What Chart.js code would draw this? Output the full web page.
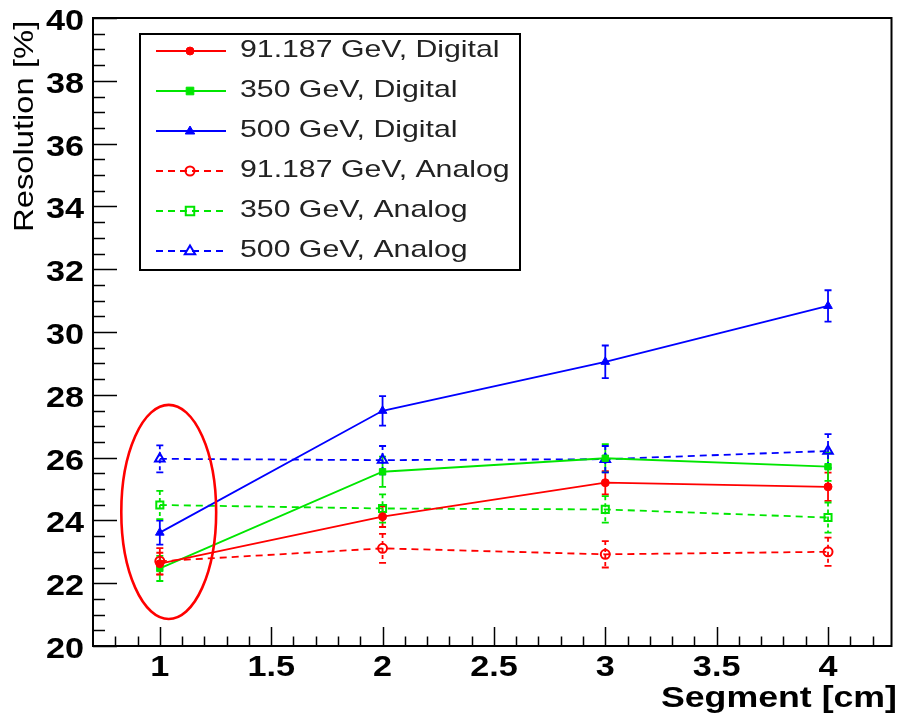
<!DOCTYPE html>
<html lang="en">
<head>
    <meta charset="UTF-8">
    <title>Resolution vs Segment</title>
    <script src="https://cdn.jsdelivr.net/npm/chart.js@4"></script>
    <style>
        body {
            margin: 0;
            background: #fff;
        }
        #wrap {
            width: 899px;
            height: 716px;
        }
    </style>
</head>
<body>
    <div id="wrap">
        <canvas id="resChart" width="899" height="716"></canvas>
    </div>

    <script>
        // segment sizes (cm)
        const segments = [1, 2, 3, 4];

        // resolution values (%)
        const digital91 = [22.62, 24.12, 25.2, 25.07];
        const digital350 = [22.47, 25.55, 25.98, 25.71];
        const digital500 = [23.61, 27.49, 29.05, 30.83];
        const analog91 = [22.7, 23.11, 22.92, 23.0];
        const analog350 = [24.49, 24.38, 24.35, 24.09];
        const analog500 = [25.96, 25.92, 25.95, 26.21];

        // error bars (half length)
        const digital91Err = [0.35, 0.33, 0.37, 0.45];
        const digital350Err = [0.4, 0.48, 0.45, 0.45];
        const digital500Err = [0.38, 0.47, 0.52, 0.5];
        const analog91Err = [0.42, 0.46, 0.42, 0.45];
        const analog350Err = [0.45, 0.45, 0.42, 0.48];
        const analog500Err = [0.43, 0.45, 0.42, 0.54];

        const seriesLabels = ['91.187 GeV, Digital', '350 GeV, Digital', '500 GeV, Digital',
                              '91.187 GeV, Analog', '350 GeV, Analog', '500 GeV, Analog'];

        const xTicks = [1, 1.5, 2, 2.5, 3, 3.5, 4];
        const xTickLabels = ['1', '1.5', '2', '2.5', '3', '3.5', '4'];
        const yTicks = [20, 22, 24, 26, 28, 30, 32, 34, 36, 38, 40];
        const yTickLabels = ['20', '22', '24', '26', '28', '30', '32', '34', '36', '38', '40'];

        // the hand-drawn ring around segment 1 (data units)
        const ring = { x: 1.04, y: 24.27, rx: 0.213, ry: 3.41 };

        const RED = '#ff0000', GREEN = '#00e600', BLUE = '#0000ff';

        function makeSet(label, values, errs, color, style, filled, dashed, radius) {
            return {
                label: label,
                data: values.map((v, i) => ({ x: segments[i], y: v })),
                errs: errs,
                borderColor: color,
                backgroundColor: filled ? color : 'rgba(0,0,0,0)',
                pointBackgroundColor: filled ? color : 'rgba(0,0,0,0)',
                pointBorderColor: color,
                pointStyle: style,
                pointRadius: radius,
                pointBorderWidth: filled ? 1 : 2,
                borderWidth: 1.8,
                borderDash: dashed ? [7, 5] : [],
                tension: 0,
                filled: filled
            };
        }

        const datasets = [
            makeSet(seriesLabels[0], digital91, digital91Err, RED, 'circle', true, false, 4),
            makeSet(seriesLabels[1], digital350, digital350Err, GREEN, 'rect', true, false, 4.5),
            makeSet(seriesLabels[2], digital500, digital500Err, BLUE, 'triangle', true, false, 5),
            makeSet(seriesLabels[3], analog91, analog91Err, RED, 'circle', false, true, 4.5),
            makeSet(seriesLabels[4], analog350, analog350Err, GREEN, 'rect', false, true, 5),
            makeSet(seriesLabels[5], analog500, analog500Err, BLUE, 'triangle', false, true, 5.5)
        ];

        function stretchText(ctx, text, x, y, font, sx, align) {
            ctx.save();
            ctx.font = font;
            ctx.translate(x, y);
            ctx.scale(sx, 1);
            ctx.textAlign = align;
            ctx.textBaseline = 'alphabetic';
            ctx.fillText(text, 0, 0);
            ctx.restore();
        }

        function drawMarker(ctx, ds, x, y) {
            const r = ds.pointRadius;
            ctx.save();
            ctx.setLineDash([]);
            ctx.strokeStyle = ds.borderColor;
            ctx.fillStyle = ds.borderColor;
            ctx.lineWidth = ds.pointBorderWidth;
            ctx.beginPath();
            if (ds.pointStyle === 'circle') {
                ctx.arc(x, y, r, 0, Math.PI * 2);
            } else if (ds.pointStyle === 'rect') {
                const s = r * 0.85;
                ctx.rect(x - s, y - s, 2 * s, 2 * s);
            } else {
                ctx.moveTo(x, y - r);
                ctx.lineTo(x + r * 0.95, y + r * 0.6);
                ctx.lineTo(x - r * 0.95, y + r * 0.6);
                ctx.closePath();
            }
            if (ds.filled) ctx.fill();
            ctx.stroke();
            ctx.restore();
        }

        const rootStyle = {
            id: 'rootStyle',
            beforeDatasetsDraw(chart) {
                // error bars
                const ctx = chart.ctx;
                const xs = chart.scales.x, ys = chart.scales.y;
                ctx.save();
                chart.data.datasets.forEach(ds => {
                    ctx.strokeStyle = ds.borderColor;
                    ctx.lineWidth = 1.8;
                    ctx.setLineDash(ds.borderDash.length ? [4, 3] : []);
                    ds.data.forEach((p, i) => {
                        const px = xs.getPixelForValue(p.x);
                        const top = ys.getPixelForValue(p.y + ds.errs[i]);
                        const bot = ys.getPixelForValue(p.y - ds.errs[i]);
                        ctx.beginPath();
                        ctx.moveTo(px, top);
                        ctx.lineTo(px, bot);
                        ctx.stroke();
                        ctx.setLineDash([]);
                        ctx.beginPath();
                        ctx.moveTo(px - 3.5, top);
                        ctx.lineTo(px + 3.5, top);
                        ctx.moveTo(px - 3.5, bot);
                        ctx.lineTo(px + 3.5, bot);
                        ctx.stroke();
                        ctx.setLineDash(ds.borderDash.length ? [4, 3] : []);
                    });
                });
                ctx.restore();
            },
            afterDraw(chart) {
                const ctx = chart.ctx;
                const xs = chart.scales.x, ys = chart.scales.y;
                const a = chart.chartArea;

                // red ring
                ctx.save();
                const cx = xs.getPixelForValue(ring.x);
                const cy = ys.getPixelForValue(ring.y);
                const rx = xs.getPixelForValue(ring.x + ring.rx) - cx;
                const ry = cy - ys.getPixelForValue(ring.y + ring.ry);
                ctx.strokeStyle = RED;
                ctx.lineWidth = 2.6;
                ctx.beginPath();
                ctx.ellipse(cx, cy, rx, ry, 0, 0, Math.PI * 2);
                ctx.stroke();
                ctx.restore();

                // frame
                ctx.save();
                ctx.strokeStyle = '#000';
                ctx.lineWidth = 2;
                ctx.strokeRect(a.left, a.top, a.right - a.left, a.bottom - a.top);

                // ticks, drawn inward like ROOT
                ctx.lineWidth = 1.5;
                ctx.beginPath();
                for (let v = 20; v <= 40.001; v += 0.5) {
                    const py = Math.round(ys.getPixelForValue(v)) + 0.5;
                    const major = Math.abs(v / 2 - Math.round(v / 2)) < 1e-6;
                    ctx.moveTo(a.left, py);
                    ctx.lineTo(a.left + (major ? 24 : 12), py);
                }
                for (let v = 0.8; v <= 4.25; v += 0.1) {
                    const px = Math.round(xs.getPixelForValue(v)) + 0.5;
                    const major = Math.abs(v * 2 - Math.round(v * 2)) < 1e-6;
                    ctx.moveTo(px, a.bottom);
                    ctx.lineTo(px, a.bottom - (major ? 19 : 9.5));
                }
                ctx.stroke();
                ctx.restore();

                // tick labels
                ctx.save();
                ctx.fillStyle = '#000';
                yTicks.forEach((v, i) => {
                    stretchText(ctx, yTickLabels[i], 84, ys.getPixelForValue(v) + 12,
                        'bold 29px "Liberation Sans", Arial, sans-serif', 1.18, 'right');
                });
                xTicks.forEach((v, i) => {
                    stretchText(ctx, xTickLabels[i], xs.getPixelForValue(v), 676,
                        'bold 29px "Liberation Sans", Arial, sans-serif', 1.18, 'center');
                });

                // axis titles
                stretchText(ctx, 'Segment [cm]', 897, 707,
                    'bold 30px "Liberation Sans", Arial, sans-serif', 1.19, 'right');
                ctx.save();
                ctx.translate(33, 232);
                ctx.rotate(-Math.PI / 2);
                stretchText(ctx, 'Resolution [%]', 0, 0,
                    '28px "Liberation Sans", Arial, sans-serif', 1.17, 'left');
                ctx.restore();
                ctx.restore();

                // legend box
                ctx.save();
                ctx.fillStyle = '#fff';
                ctx.fillRect(140, 34, 380, 236);
                ctx.strokeStyle = '#000';
                ctx.lineWidth = 2;
                ctx.strokeRect(140, 34, 380, 236);
                chart.data.datasets.forEach((ds, i) => {
                    const rowY = 51 + i * 40;
                    ctx.strokeStyle = ds.borderColor;
                    ctx.lineWidth = 1.8;
                    ctx.setLineDash(ds.borderDash);
                    ctx.beginPath();
                    ctx.moveTo(156, rowY);
                    ctx.lineTo(226, rowY);
                    ctx.stroke();
                    ctx.setLineDash([]);
                    drawMarker(ctx, ds, 190, rowY);
                    ctx.fillStyle = '#222';
                    stretchText(ctx, ds.label, 240, rowY + 6,
                        '24px "Liberation Sans", Arial, sans-serif', 1.26, 'left');
                });
                ctx.restore();
            }
        };

        const ctx = document.getElementById('resChart').getContext('2d');
        const resChart = new Chart(ctx, {
            type: 'line',
            data: { datasets: datasets },
            options: {
                responsive: false,
                animation: false,
                layout: {
                    padding: { left: 93, top: 18, right: 2, bottom: 70 }
                },
                plugins: {
                    legend: { display: false },
                    tooltip: { enabled: false }
                },
                scales: {
                    x: { type: 'linear', min: 0.7, max: 4.285, display: false },
                    y: { type: 'linear', min: 20, max: 40, display: false }
                }
            },
            plugins: [rootStyle]
        });
    </script>
</body>
</html>
